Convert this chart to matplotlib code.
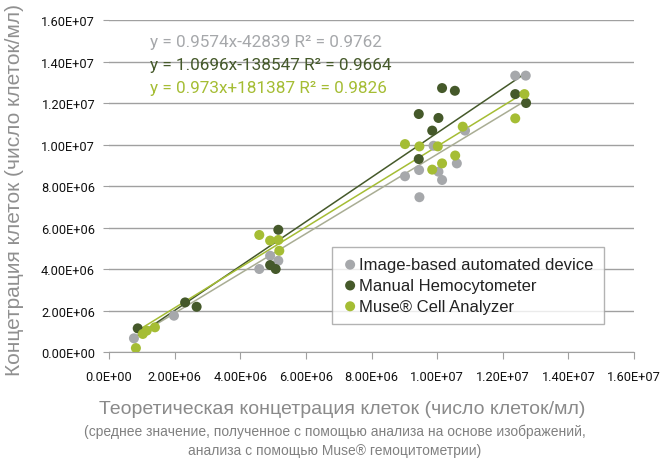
import matplotlib.pyplot as plt
import numpy as np

# Data (cells/ml, in millions)
gray_x = [0.76, 1.98, 4.91, 5.16, 4.58, 10.85, 9.89, 10.60, 9.45, 10.04, 9.02, 10.15, 9.46, 12.38, 12.70]
gray_y = [0.66, 1.75, 4.64, 4.40, 4.00, 10.67, 9.94, 9.09, 8.77, 8.69, 8.47, 8.29, 7.46, 13.32, 13.32]

dark_x = [0.875, 2.32, 2.67, 5.16, 4.91, 5.08, 10.15, 10.54, 9.44, 10.04, 9.85, 9.44, 12.38, 12.71]
dark_y = [1.14, 2.39, 2.18, 5.89, 4.19, 4.00, 12.72, 12.59, 11.47, 11.28, 10.67, 9.30, 12.43, 12.00]

light_x = [0.82, 1.03, 1.15, 1.40, 4.58, 4.91, 5.16, 5.19, 10.78, 9.02, 9.46, 10.02, 10.55, 10.15, 9.85, 12.66, 12.38]
light_y = [0.19, 0.87, 1.03, 1.19, 5.64, 5.37, 5.40, 4.88, 10.86, 10.02, 9.91, 9.91, 9.47, 9.09, 8.79, 12.43, 11.26]

# trendline coefficients (slope, intercept) as printed on the chart
gray_fit = [0.9574, -42839]
dark_fit = [1.0696, -138547]
light_fit = [0.973, 181387]

labels = ["Image-based automated device", "Manual Hemocytometer", "Muse\u00ae Cell Analyzer"]
equations = ["y = 0.9574x-42839 R\u00b2 = 0.9762",
             "y = 1.0696x-138547 R\u00b2 = 0.9664",
             "y = 0.973x+181387 R\u00b2 = 0.9826"]

x_ticks = [0, 2e6, 4e6, 6e6, 8e6, 1e7, 1.2e7, 1.4e7, 1.6e7]
x_ticklabels = ["0.0E+00", "2.00E+06", "4.00E+06", "6.00E+06", "8.00E+06",
                "1.00E+07", "1.20E+07", "1.40E+07", "1.60E+07"]
y_ticks = [0, 2e6, 4e6, 6e6, 8e6, 1e7, 1.2e7, 1.4e7, 1.6e7]
y_ticklabels = ["0.00E+00", "2.00E+06", "4.00E+06", "6.00E+06", "8.00E+06",
                "1.00E+07", "1.20E+07", "1.40E+07", "1.60E+07"]

colors = ["#a6a8ab", "#45592a", "#a5bd34"]
line_colors = ["#a9ad94", "#45592a", "#a5bd34"]

narrow = ["Roboto", "DejaVu Sans"]
plt.rcParams['font.family'] = ["Liberation Sans", "DejaVu Sans"]

fig = plt.figure(figsize=(6.61, 4.60), dpi=100)
ax = fig.add_axes([0.1649, 0.2326, 0.7943, 0.7217])

series = [(gray_x, gray_y, gray_fit), (dark_x, dark_y, dark_fit), (light_x, light_y, light_fit)]
for i, (xs, ys, fit) in enumerate(series):
    xs = np.array(xs) * 1e6
    ys = np.array(ys) * 1e6
    ax.scatter(xs, ys, s=52, color=colors[i], edgecolors="none", zorder=3 + i, label=labels[i])
    lx = np.array([xs.min(), xs.max()])
    ax.plot(lx, fit[0] * lx + fit[1], color=line_colors[i], lw=1.1, zorder=2)

ax.set_xlim(0, 1.6e7)
ax.set_ylim(0, 1.6e7)
ax.set_xticks(x_ticks)
ax.set_xticklabels(x_ticklabels, family=narrow, fontsize=9.2, color="#111111")
ax.set_yticks(y_ticks)
ax.set_yticklabels(y_ticklabels, family=narrow, fontsize=9.2, color="#111111")
ax.grid(axis="y", color="#a0a0a0", lw=1)
ax.set_axisbelow(True)
for s in ["top", "right", "left"]:
    ax.spines[s].set_visible(False)
ax.spines["bottom"].set_color("#a0a0a0")
ax.tick_params(axis="x", length=5, color="#a0a0a0", pad=8)
ax.tick_params(axis="y", length=4, color="#a0a0a0", pad=6)

# regression equations
for i, eq in enumerate(equations):
    fig.text(150 / 661, 1 - (43 + 22.5 * i) / 460, eq, color=line_colors[i] if i else colors[0],
             family=narrow, fontsize=12.3, va="center", ha="left")

leg = ax.legend(loc="lower right", bbox_to_anchor=(612 / 661, 1 - 333 / 460),
                bbox_transform=fig.transFigure, frameon=True, fancybox=False,
                fontsize=12, handletextpad=0.05, borderpad=0.6, labelspacing=0.35,
                markerscale=1.0, handlelength=1.0)
leg.get_frame().set_edgecolor("#a0a0a0")
leg.get_frame().set_linewidth(1)
for t in leg.get_texts():
    t.set_color("#222222")

fig.text(15 / 661, 1 - 190 / 460, "Концетрация клеток (число клеток/мл)", rotation=90,
         fontsize=15, color="#909090", ha="center", va="center")
fig.text(342 / 661, 1 - 410 / 460, "Теоретическая концетрация клеток (число клеток/мл)",
         fontsize=14, color="#8a8a8a", ha="center", va="center")
fig.text(335 / 661, 1 - 432 / 460,
         "(среднее значение, полученное с помощью анализа на основе изображений,",
         fontsize=10, color="#808080", ha="center", va="center")
fig.text(335 / 661, 1 - 451 / 460, "анализа с помощью Muse\u00ae гемоцитометрии)",
         fontsize=10, color="#808080", ha="center", va="center")

fig.savefig("out.png", dpi=100)
